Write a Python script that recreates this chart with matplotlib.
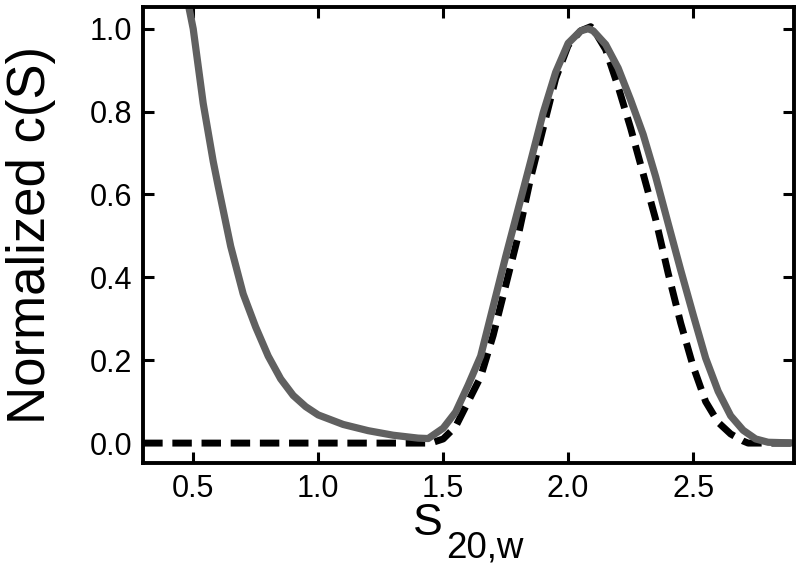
import matplotlib
matplotlib.use("Agg")
import matplotlib.pyplot as plt

plt.rcParams['font.family'] = ['Liberation Sans', 'DejaVu Sans']

# grey solid curve
s_grey = [0.48, 0.50, 0.54, 0.58, 0.60, 0.65, 0.70, 0.75, 0.80, 0.85, 0.90, 0.95,
          1.00, 1.10, 1.20, 1.30, 1.40, 1.44, 1.50, 1.55, 1.60, 1.65, 1.70, 1.75,
          1.80, 1.85, 1.90, 1.95, 2.00, 2.05, 2.08, 2.10, 2.15, 2.20, 2.25, 2.30,
          2.35, 2.40, 2.45, 2.50, 2.55, 2.60, 2.65, 2.70, 2.75, 2.80, 2.92]
c_grey = [1.06, 1.00, 0.82, 0.68, 0.62, 0.475, 0.36, 0.28, 0.21, 0.155, 0.115, 0.088,
          0.068, 0.045, 0.030, 0.019, 0.012, 0.011, 0.036, 0.075, 0.14, 0.21, 0.33, 0.45,
          0.565, 0.68, 0.797, 0.895, 0.965, 0.995, 1.0, 0.995, 0.962, 0.905, 0.828, 0.745,
          0.643, 0.53, 0.418, 0.31, 0.205, 0.125, 0.066, 0.031, 0.01, 0.002, 0.0]

# black dashed curve
s_dash = [0.30, 1.45, 1.50, 1.55, 1.60, 1.65, 1.70, 1.75, 1.80, 1.85, 1.90, 1.95,
          2.00, 2.05, 2.09, 2.10, 2.15, 2.20, 2.25, 2.30, 2.35, 2.40, 2.45, 2.50,
          2.55, 2.60, 2.65, 2.70, 2.72, 2.92]
c_dash = [0.0, 0.0, 0.01, 0.04, 0.10, 0.16, 0.26, 0.38, 0.50, 0.64, 0.76, 0.88,
          0.96, 0.995, 1.005, 1.0, 0.95, 0.86, 0.76, 0.65, 0.54, 0.41, 0.29, 0.185,
          0.10, 0.05, 0.022, 0.005, 0.0, 0.0]

xticks = [0.5, 1.0, 1.5, 2.0, 2.5]
yticks = [0.0, 0.2, 0.4, 0.6, 0.8, 1.0]

fig = plt.figure(figsize=(8, 5.66), dpi=100)
ax = fig.add_axes([0.179, 0.182, 0.814, 0.806])

ax.plot(s_dash, c_dash, color='black', linewidth=5, linestyle=(0, (2.8, 1.4)),
        dash_capstyle='butt')
ax.plot(s_grey, c_grey, color='#606060', linewidth=5.2, solid_joinstyle='round')

ax.set_xlim(0.3, 2.905)
ax.set_ylim(-0.048, 1.053)
ax.set_xticks(xticks)
ax.set_yticks(yticks)
ax.set_xticklabels(['%.1f' % v for v in xticks])
ax.set_yticklabels(['%.1f' % v for v in yticks])

for sp in ax.spines.values():
    sp.set_linewidth(2.8)
ax.tick_params(direction='in', length=8, width=2.2, top=True, right=True,
               labelsize=22, pad=8)

ax.set_ylabel('Normalized c(S)', fontsize=38, labelpad=24)

# x label: S with a large subscript
fig.text(413 / 800, 1 - 535 / 566, 'S', fontsize=32, ha='left', va='baseline')
fig.text(446 / 800, 1 - 558 / 566, '20,w', fontsize=26.5, ha='left', va='baseline')

plt.savefig('out.png', dpi=100)
